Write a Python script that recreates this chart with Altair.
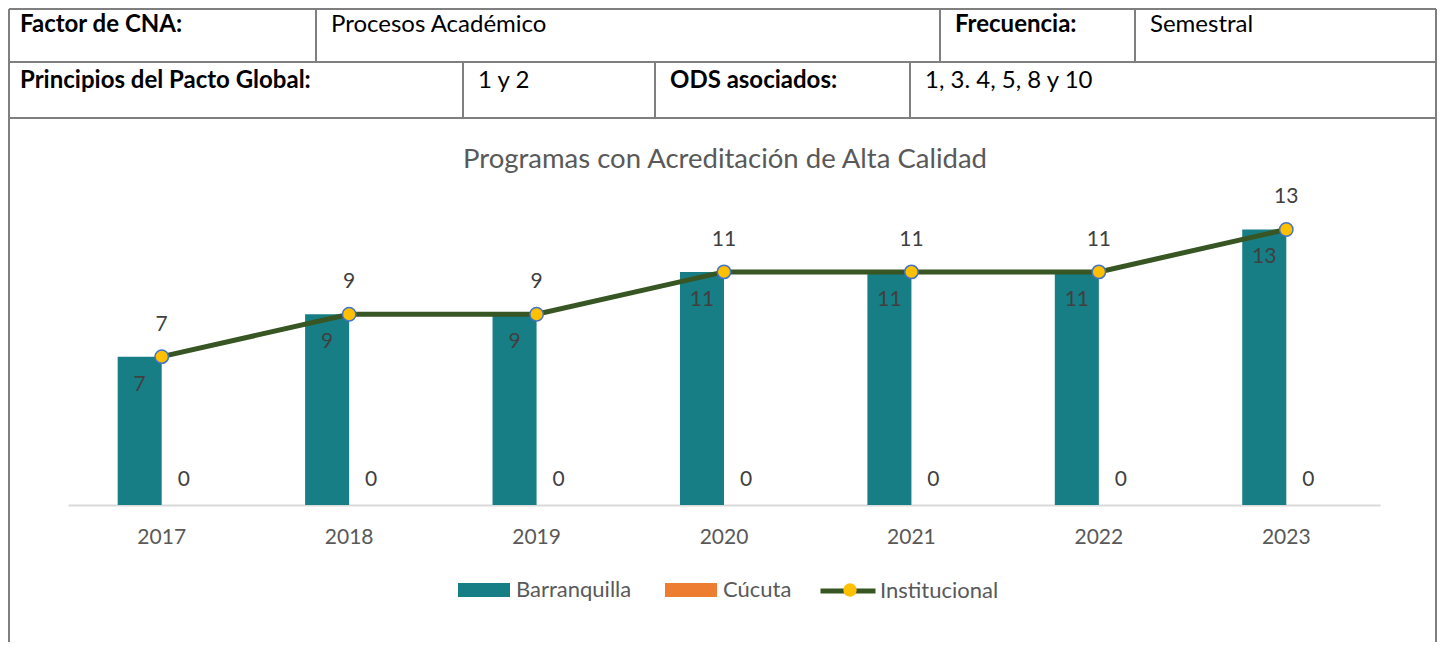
import altair as alt
import pandas as pd

# ---------------- data ----------------
years = ["2017", "2018", "2019", "2020", "2021", "2022", "2023"]
barranquilla = [7, 9, 9, 11, 11, 11, 13]
cucuta = [0, 0, 0, 0, 0, 0, 0]
institucional = [7, 9, 9, 11, 11, 11, 13]
sedes = ["Barranquilla", "Cúcuta"]
serie_linea = "Institucional"
title_text = "Programas con Acreditación de Alta Calidad"
header_labels = ["Factor de CNA:", "Frecuencia:", "Principios del Pacto Global:", "ODS asociados:"]
header_values = ["Procesos Académico", "Semestral", "1 y 2", "1, 3. 4, 5, 8 y 10"]

# ---------------- layout / style ----------------
W, H = 1429, 634
FONT = "Lato"
TEAL, ORANGE = "#177E86", "#ED7D31"
GREEN, GOLD, BLUE = "#375623", "#FFC000", "#4472C4"
BORDER = "#7F7F7F"

label_xy = [(12, 17), (947, 17), (12, 73), (662, 73)]
value_xy = [(323, 17), (1142, 17), (470, 73), (917, 73)]
RB = W - 1
table_lines = [
    (1, RB, 1, 1), (1, RB, 54, 54), (1, RB, 110, 110),
    (1, 1, 1, H), (RB, RB, 1, H),
    (308, 308, 1, 54), (932, 932, 1, 54), (1127, 1127, 1, 54),
    (455, 455, 54, 110), (647, 647, 54, 110), (902, 902, 54, 110),
]
X_RANGE = [60, 1372]
Y_RANGE = [497, 200.3]

bars_df = pd.DataFrame({
    "anio": years * 2,
    "sede": [sedes[0]] * len(years) + [sedes[1]] * len(years),
    "valor": barranquilla + cucuta,
})
line_df = pd.DataFrame({"anio": years, "valor": institucional,
                        "serie": serie_linea, "pt": "pt"})

px = alt.Scale(domain=[0, W], range=[0, W])
py = alt.Scale(domain=[0, H], range=[0, H])

xs = alt.Scale(domain=years, range=X_RANGE, paddingInner=0.53, paddingOuter=0.265)
ys = alt.Scale(domain=[0, 14], range=Y_RANGE)
x_plain = alt.X("anio:N", scale=xs, axis=None)
y_plain = alt.Y("valor:Q", scale=ys, axis=None)
x_off = alt.XOffset("sede:N", scale=alt.Scale(domain=sedes, paddingInner=0, paddingOuter=0))

# table
tl_df = pd.DataFrame(table_lines, columns=["x", "x2", "y", "y2"])
table = alt.Chart(tl_df).mark_rule(color=BORDER, strokeWidth=2).encode(
    x=alt.X("x:Q", scale=px, axis=None), x2="x2:Q",
    y=alt.Y("y:Q", scale=py, axis=None), y2="y2:Q")

lab_df = pd.DataFrame({"t": header_labels, "x": [p[0] for p in label_xy], "y": [p[1] for p in label_xy]})
val_df = pd.DataFrame({"t": header_values, "x": [p[0] for p in value_xy], "y": [p[1] for p in value_xy]})
lab_text = alt.Chart(lab_df).mark_text(align="left", baseline="middle", font=FONT, fontSize=24,
                                       fontWeight="bold", color="#000000").encode(
    x=alt.X("x:Q", scale=px, axis=None), y=alt.Y("y:Q", scale=py, axis=None), text="t:N")
val_text = alt.Chart(val_df).mark_text(align="left", baseline="middle", font=FONT, fontSize=24,
                                       color="#000000").encode(
    x=alt.X("x:Q", scale=px, axis=None), y=alt.Y("y:Q", scale=py, axis=None), text="t:N")

title = alt.Chart(pd.DataFrame({"t": [title_text]})).mark_text(
    font=FONT, fontSize=27.5, color="#595959", baseline="middle").encode(
    x=alt.value(717), y=alt.value(152), text="t:N")

# bars
bars = alt.Chart(bars_df).mark_bar().encode(
    x=alt.X("anio:N", scale=xs, title=None,
            axis=alt.Axis(offset=-(H - 497), ticks=False, tickSize=0, labelPadding=32,
                          labelBaseline="middle", labelAngle=0, labelFont=FONT,
                          labelFontSize=21, labelColor="#595959", domainColor="#D9D9D9",
                          domainWidth=2, grid=False)),
    xOffset=x_off,
    y=y_plain,
    color=alt.Color("sede:N", scale=alt.Scale(domain=sedes, range=[TEAL, ORANGE]),
                    legend=alt.Legend(title=None, orient="none", direction="horizontal",
                                      legendX=450, legendY=556, padding=0,
                                      symbolType="M-1,-0.27H1V0.27H-1Z", symbolSize=2704,
                                      symbolStrokeWidth=0, labelFont=FONT, labelFontSize=22,
                                      labelColor="#595959", labelOffset=6, columnPadding=33)),
)

bar_lab_b = alt.Chart(bars_df).transform_filter(alt.datum.sede == sedes[0]).mark_text(
    dy=28, font=FONT, fontSize=21, color="#404040").encode(
    x=x_plain, xOffset=x_off, y=y_plain, text="valor:Q")
bar_lab_c = alt.Chart(bars_df).transform_filter(alt.datum.sede == sedes[1]).mark_text(
    dy=-25, font=FONT, fontSize=21, color="#404040").encode(
    x=x_plain, xOffset=x_off, y=y_plain, text="valor:Q")

line = alt.Chart(line_df).mark_line(strokeWidth=5).encode(
    x=x_plain, y=y_plain,
    stroke=alt.Stroke("serie:N", scale=alt.Scale(domain=[serie_linea], range=[GREEN]),
                      legend=alt.Legend(title=None, orient="none", legendX=810, legendY=553,
                                        padding=0, symbolType="stroke", symbolSize=3025,
                                        symbolStrokeWidth=5, labelFont=FONT, labelFontSize=22,
                                        labelColor="#595959", labelOffset=2)))

points = alt.Chart(line_df).mark_point(filled=True, fill=GOLD, stroke=BLUE, strokeWidth=1.5,
                                       size=180, opacity=1).encode(
    x=x_plain, y=y_plain,
    shape=alt.Shape("pt:N", scale=alt.Scale(domain=["pt"], range=["circle"]),
                    legend=alt.Legend(title=None, orient="none", legendX=832, legendY=572,
                                      padding=0, symbolSize=180, symbolFillColor=GOLD,
                                      symbolStrokeColor=BLUE, symbolStrokeWidth=1.5,
                                      labelExpr="''", labelFontSize=20)))

inst_lab = alt.Chart(line_df).mark_text(dy=-32, font=FONT, fontSize=21, color="#404040").encode(
    x=x_plain, y=y_plain, text="valor:Q")

chart = alt.layer(
    table, lab_text, val_text, title, bars, bar_lab_b, bar_lab_c, line, points, inst_lab
).resolve_scale(x="independent", y="independent").properties(
    width=W, height=H, autosize=alt.AutoSizeParams(type="none"), padding=0
).configure_view(stroke=None)

chart.save("out.html", embed_options={"renderer": "svg", "actions": False})
